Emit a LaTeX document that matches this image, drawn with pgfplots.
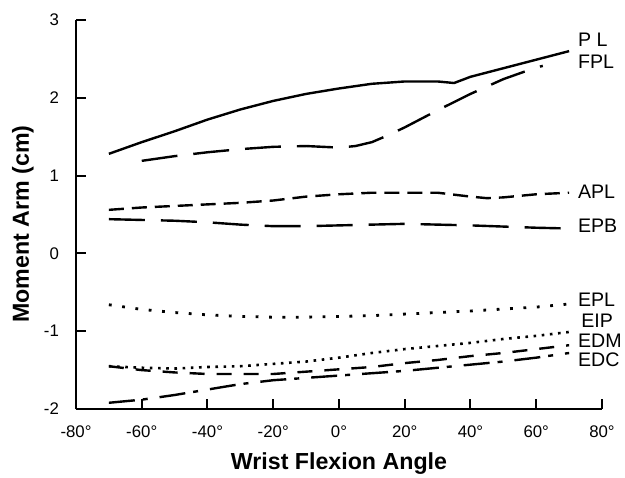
\documentclass[border=0pt]{standalone}
\usepackage{fontspec}
\setmainfont{Liberation Sans}
\usepackage{pgfplots}
\pgfplotsset{compat=1.18}
\begin{document}
\begin{tikzpicture}
\begin{axis}[
  at={(0,0)}, anchor=south west,
  width=263pt, height=194.5pt, scale only axis,
  xmin=-80, xmax=80, ymin=-2, ymax=3,
  axis lines*=left,
  axis line style={line width=1pt},
  tick align=inside,
  major tick length=5pt,
  tick style={line width=1pt, black},
  xtick={-80,-60,-40,-20,0,20,40,60,80},
  xticklabels={-80°,-60°,-40°,-20°,0°,20°,40°,60°,80°},
  ytick={-2,-1,0,1,2,3},
  yticklabels={-2,-1,0,1,2,3},
  ticklabel style={font=\fontsize{8.4}{10}\selectfont},
  xticklabel style={yshift=-5pt},
  yticklabel style={xshift=-5pt},
  xlabel={Wrist Flexion Angle},
  ylabel={Moment Arm (cm)},
  label style={font=\fontsize{11.6}{13}\selectfont\bfseries},
  xlabel style={at={(axis description cs:0.5,-0.1414)}, anchor=center},
  ylabel style={at={(axis description cs:-0.1008,0.4756)}, anchor=center},
  clip=false,
  every axis plot/.append style={line width=1.2pt, black},
]
% PL
\addplot[solid] coordinates {(-70,1.28) (-60,1.43) (-50,1.57) (-40,1.72) (-30,1.85) (-20,1.96) (-10,2.05) (0,2.12) (10,2.18) (20,2.21) (30,2.21) (35,2.19) (40,2.27) (50,2.38) (60,2.49) (70,2.60)};
% FPL
\addplot[dash pattern=on 18pt off 8pt] coordinates {(-60,1.19) (-50,1.25) (-40,1.30) (-30,1.34) (-20,1.37) (-10,1.38) (0,1.36) (5,1.38) (10,1.43) (15,1.52) (20,1.62) (30,1.84) (40,2.05) (50,2.24) (60,2.39) (62,2.41)};
% APL
\addplot[dash pattern=on 7.5pt off 4pt] coordinates {(-70,0.56) (-60,0.59) (-50,0.61) (-40,0.63) (-30,0.65) (-20,0.68) (-10,0.73) (0,0.76) (10,0.78) (20,0.78) (30,0.78) (40,0.73) (45,0.71) (50,0.72) (60,0.76) (70,0.78)};
% EPB
\addplot[dash pattern=on 18pt off 8pt] coordinates {(-70,0.44) (-60,0.43) (-50,0.42) (-40,0.40) (-30,0.37) (-20,0.35) (-10,0.35) (0,0.36) (20,0.38) (40,0.36) (60,0.33) (70,0.32)};
% EPL
\addplot[line width=1.4pt, dash pattern=on 1.4pt off 5.3pt] coordinates {(-70,-0.66) (-60,-0.72) (-50,-0.76) (-40,-0.79) (-30,-0.81) (-20,-0.82) (-10,-0.82) (0,-0.81) (10,-0.80) (20,-0.78) (40,-0.74) (60,-0.69) (70,-0.65)};
% EIP
\addplot[line width=1.3pt, dash pattern=on 1.3pt off 2.8pt] coordinates {(-70,-1.45) (-60,-1.47) (-50,-1.48) (-40,-1.46) (-30,-1.45) (-20,-1.42) (-10,-1.39) (0,-1.34) (10,-1.28) (20,-1.23) (30,-1.19) (40,-1.15) (50,-1.10) (60,-1.06) (70,-1.01)};
% EDM
\addplot[dash pattern=on 7.5pt off 6pt] coordinates {(-70,-1.45) (-60,-1.50) (-50,-1.53) (-40,-1.55) (-30,-1.55) (-20,-1.55) (-10,-1.52) (0,-1.49) (10,-1.46) (20,-1.41) (30,-1.37) (40,-1.32) (50,-1.28) (60,-1.23) (70,-1.18)};
% EDC
\addplot[dash pattern=on 13pt off 4pt on 2.5pt off 6pt] coordinates {(-70,-1.92) (-60,-1.88) (-50,-1.82) (-40,-1.75) (-30,-1.68) (-20,-1.63) (-10,-1.60) (0,-1.57) (10,-1.54) (20,-1.51) (30,-1.47) (40,-1.43) (50,-1.39) (60,-1.34) (70,-1.28)};
\begin{scope}[every node/.style={anchor=west, inner sep=0pt, font=\fontsize{9.8}{11}\selectfont}]
\node at (axis cs:72.6,2.74) {P L};
\node at (axis cs:72.6,2.46) {FPL};
\node at (axis cs:72.6,0.79) {APL};
\node at (axis cs:72.6,0.35) {EPB};
\node at (axis cs:72.6,-0.59) {EPL};
\node at (axis cs:73.6,-0.87) {EIP};
\node at (axis cs:72.6,-1.12) {EDM};
\node at (axis cs:72.6,-1.37) {EDC};
\end{scope}
\end{axis}
\pgfresetboundingbox
\path[use as bounding box] (-38pt,-34pt) rectangle (274.5pt,204.5pt);
\end{tikzpicture}
\end{document}
